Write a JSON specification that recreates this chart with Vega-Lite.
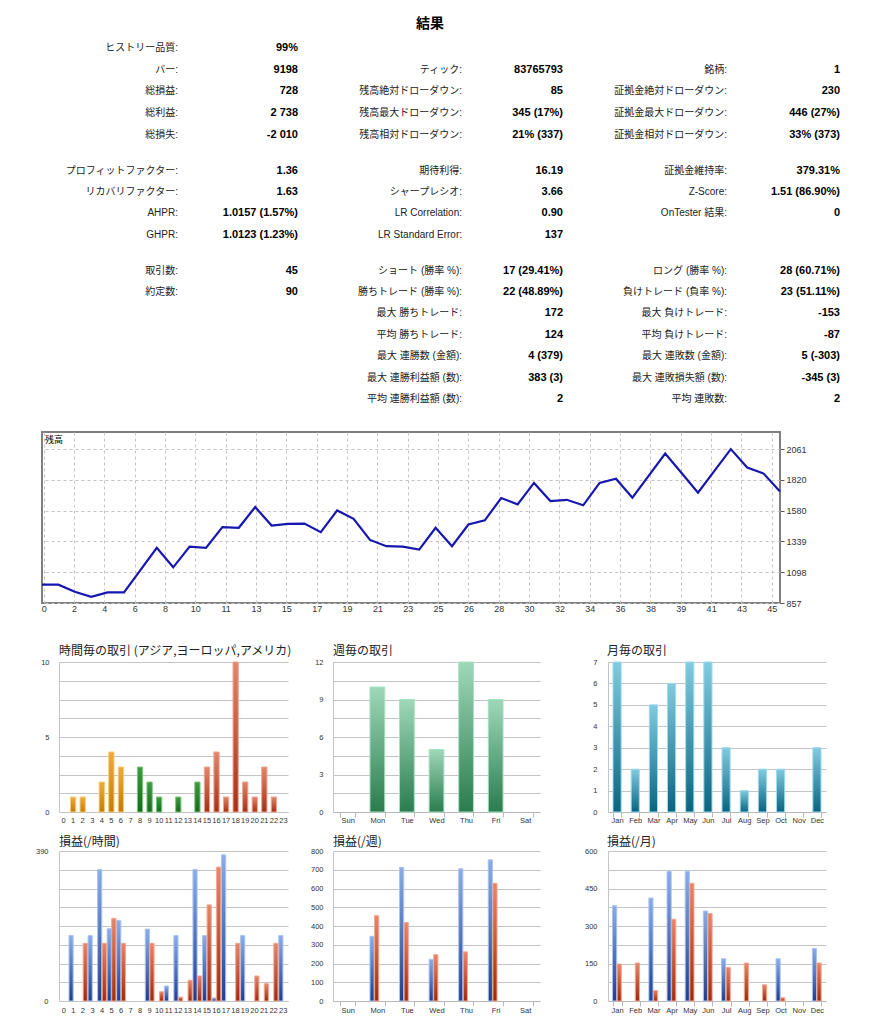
{
 "$schema": "https://vega.github.io/schema/vega-lite/v6.json",
 "background": "white",
 "padding": {"left": 35, "top": 17, "right": 10, "bottom": 5},
 "spacing": 10,
 "config": {
  "view": {"stroke": null},
  "font": "Liberation Sans",
  "axis": {"labelFont": "Liberation Sans", "labelColor": "#333", "labelFlush": false, "labelOverlap": false, "title": null},
  "title": {"font": "Noto Sans CJK JP", "fontWeight": "normal", "color": "#222"}
 },
 "datasets": {
  "stats": [
   {"g": 1, "r": 1, "label": "ヒストリー品質:", "value": "99%"},
   {"g": 1, "r": 2, "label": "バー:", "value": "9198"},
   {"g": 1, "r": 3, "label": "総損益:", "value": "728"},
   {"g": 1, "r": 4, "label": "総利益:", "value": "2 738"},
   {"g": 1, "r": 5, "label": "総損失:", "value": "-2 010"},
   {"g": 1, "r": 6, "label": "プロフィットファクター:", "value": "1.36"},
   {"g": 1, "r": 7, "label": "リカバリファクター:", "value": "1.63"},
   {"g": 1, "r": 8, "label": "AHPR:", "value": "1.0157 (1.57%)"},
   {"g": 1, "r": 9, "label": "GHPR:", "value": "1.0123 (1.23%)"},
   {"g": 1, "r": 10, "label": "取引数:", "value": "45"},
   {"g": 1, "r": 11, "label": "約定数:", "value": "90"},
   {"g": 2, "r": 2, "label": "ティック:", "value": "83765793"},
   {"g": 2, "r": 3, "label": "残高絶対ドローダウン:", "value": "85"},
   {"g": 2, "r": 4, "label": "残高最大ドローダウン:", "value": "345 (17%)"},
   {"g": 2, "r": 5, "label": "残高相対ドローダウン:", "value": "21% (337)"},
   {"g": 2, "r": 6, "label": "期待利得:", "value": "16.19"},
   {"g": 2, "r": 7, "label": "シャープレシオ:", "value": "3.66"},
   {"g": 2, "r": 8, "label": "LR Correlation:", "value": "0.90"},
   {"g": 2, "r": 9, "label": "LR Standard Error:", "value": "137"},
   {"g": 2, "r": 10, "label": "ショート (勝率 %):", "value": "17 (29.41%)"},
   {"g": 2, "r": 11, "label": "勝ちトレード (勝率 %):", "value": "22 (48.89%)"},
   {"g": 2, "r": 12, "label": "最大 勝ちトレード:", "value": "172"},
   {"g": 2, "r": 13, "label": "平均 勝ちトレード:", "value": "124"},
   {"g": 2, "r": 14, "label": "最大 連勝数 (金額):", "value": "4 (379)"},
   {"g": 2, "r": 15, "label": "最大 連勝利益額 (数):", "value": "383 (3)"},
   {"g": 2, "r": 16, "label": "平均 連勝利益額 (数):", "value": "2"},
   {"g": 3, "r": 2, "label": "銘柄:", "value": "1"},
   {"g": 3, "r": 3, "label": "証拠金絶対ドローダウン:", "value": "230"},
   {"g": 3, "r": 4, "label": "証拠金最大ドローダウン:", "value": "446 (27%)"},
   {"g": 3, "r": 5, "label": "証拠金相対ドローダウン:", "value": "33% (373)"},
   {"g": 3, "r": 6, "label": "証拠金維持率:", "value": "379.31%"},
   {"g": 3, "r": 7, "label": "Z-Score:", "value": "1.51 (86.90%)"},
   {"g": 3, "r": 8, "label": "OnTester 結果:", "value": "0"},
   {"g": 3, "r": 10, "label": "ロング (勝率 %):", "value": "28 (60.71%)"},
   {"g": 3, "r": 11, "label": "負けトレード (負率 %):", "value": "23 (51.11%)"},
   {"g": 3, "r": 12, "label": "最大 負けトレード:", "value": "-153"},
   {"g": 3, "r": 13, "label": "平均 負けトレード:", "value": "-87"},
   {"g": 3, "r": 14, "label": "最大 連敗数 (金額):", "value": "5 (-303)"},
   {"g": 3, "r": 15, "label": "最大 連敗損失額 (数):", "value": "-345 (3)"},
   {"g": 3, "r": 16, "label": "平均 連敗数:", "value": "2"}
  ],
  "balance": [
   {"trade": 0, "balance": 1000}, {"trade": 1, "balance": 1000}, {"trade": 2, "balance": 945}, {"trade": 3, "balance": 906},
   {"trade": 4, "balance": 940}, {"trade": 5, "balance": 940}, {"trade": 6, "balance": 1114}, {"trade": 7, "balance": 1288},
   {"trade": 8, "balance": 1136}, {"trade": 9, "balance": 1298}, {"trade": 10, "balance": 1288}, {"trade": 11, "balance": 1450},
   {"trade": 12, "balance": 1445}, {"trade": 13, "balance": 1607}, {"trade": 14, "balance": 1463}, {"trade": 15, "balance": 1476},
   {"trade": 16, "balance": 1478}, {"trade": 17, "balance": 1411}, {"trade": 18, "balance": 1581}, {"trade": 19, "balance": 1515},
   {"trade": 20, "balance": 1350}, {"trade": 21, "balance": 1301}, {"trade": 22, "balance": 1298}, {"trade": 23, "balance": 1275},
   {"trade": 24, "balance": 1445}, {"trade": 25, "balance": 1301}, {"trade": 26, "balance": 1471}, {"trade": 27, "balance": 1503},
   {"trade": 28, "balance": 1678}, {"trade": 29, "balance": 1628}, {"trade": 30, "balance": 1796}, {"trade": 31, "balance": 1654},
   {"trade": 32, "balance": 1664}, {"trade": 33, "balance": 1621}, {"trade": 34, "balance": 1796}, {"trade": 35, "balance": 1829},
   {"trade": 36, "balance": 1680}, {"trade": 37, "balance": 1853}, {"trade": 38, "balance": 2026}, {"trade": 39, "balance": 1873},
   {"trade": 40, "balance": 1720}, {"trade": 41, "balance": 1890}, {"trade": 42, "balance": 2060}, {"trade": 43, "balance": 1916},
   {"trade": 44, "balance": 1869}, {"trade": 45, "balance": 1728}
  ],
  "hourTrades": [
   {"hour": 1, "count": 1, "region": "asia"}, {"hour": 2, "count": 1, "region": "asia"}, {"hour": 4, "count": 2, "region": "asia"},
   {"hour": 5, "count": 4, "region": "asia"}, {"hour": 6, "count": 3, "region": "asia"},
   {"hour": 8, "count": 3, "region": "europe"}, {"hour": 9, "count": 2, "region": "europe"}, {"hour": 10, "count": 1, "region": "europe"},
   {"hour": 12, "count": 1, "region": "europe"}, {"hour": 14, "count": 2, "region": "europe"},
   {"hour": 15, "count": 3, "region": "america"}, {"hour": 16, "count": 4, "region": "america"}, {"hour": 17, "count": 1, "region": "america"},
   {"hour": 18, "count": 10, "region": "america"}, {"hour": 19, "count": 2, "region": "america"}, {"hour": 20, "count": 1, "region": "america"},
   {"hour": 21, "count": 3, "region": "america"}, {"hour": 22, "count": 1, "region": "america"}
  ],
  "dayTrades": [
   {"day": "Mon", "count": 10}, {"day": "Tue", "count": 9}, {"day": "Wed", "count": 5}, {"day": "Thu", "count": 12}, {"day": "Fri", "count": 9}
  ],
  "monthTrades": [
   {"month": "Jan", "count": 7}, {"month": "Feb", "count": 2}, {"month": "Mar", "count": 5}, {"month": "Apr", "count": 6},
   {"month": "May", "count": 7}, {"month": "Jun", "count": 7}, {"month": "Jul", "count": 3}, {"month": "Aug", "count": 1},
   {"month": "Sep", "count": 2}, {"month": "Oct", "count": 2}, {"month": "Dec", "count": 3}
  ],
  "hourPL": [
   {"hour": 1, "type": "profit", "value": 170}, {"hour": 3, "type": "profit", "value": 170}, {"hour": 4, "type": "profit", "value": 342},
   {"hour": 5, "type": "profit", "value": 188}, {"hour": 6, "type": "profit", "value": 209}, {"hour": 9, "type": "profit", "value": 187},
   {"hour": 11, "type": "profit", "value": 39}, {"hour": 12, "type": "profit", "value": 170}, {"hour": 14, "type": "profit", "value": 342},
   {"hour": 15, "type": "profit", "value": 170}, {"hour": 16, "type": "profit", "value": 8}, {"hour": 17, "type": "profit", "value": 380},
   {"hour": 19, "type": "profit", "value": 170}, {"hour": 23, "type": "profit", "value": 170},
   {"hour": 2, "type": "loss", "value": 150}, {"hour": 4, "type": "loss", "value": 150}, {"hour": 5, "type": "loss", "value": 215},
   {"hour": 6, "type": "loss", "value": 150}, {"hour": 9, "type": "loss", "value": 150}, {"hour": 10, "type": "loss", "value": 24},
   {"hour": 12, "type": "loss", "value": 10}, {"hour": 13, "type": "loss", "value": 54}, {"hour": 14, "type": "loss", "value": 65},
   {"hour": 15, "type": "loss", "value": 250}, {"hour": 16, "type": "loss", "value": 348}, {"hour": 18, "type": "loss", "value": 150},
   {"hour": 20, "type": "loss", "value": 65}, {"hour": 21, "type": "loss", "value": 45}, {"hour": 22, "type": "loss", "value": 150}
  ],
  "dayPL": [
   {"day": "Mon", "type": "profit", "value": 345}, {"day": "Tue", "type": "profit", "value": 713}, {"day": "Wed", "type": "profit", "value": 222},
   {"day": "Thu", "type": "profit", "value": 705}, {"day": "Fri", "type": "profit", "value": 753},
   {"day": "Mon", "type": "loss", "value": 455}, {"day": "Tue", "type": "loss", "value": 418}, {"day": "Wed", "type": "loss", "value": 247},
   {"day": "Thu", "type": "loss", "value": 262}, {"day": "Fri", "type": "loss", "value": 628}
  ],
  "monthPL": [
   {"month": "Jan", "type": "profit", "value": 381}, {"month": "Mar", "type": "profit", "value": 412}, {"month": "Apr", "type": "profit", "value": 518},
   {"month": "May", "type": "profit", "value": 518}, {"month": "Jun", "type": "profit", "value": 360}, {"month": "Jul", "type": "profit", "value": 169},
   {"month": "Oct", "type": "profit", "value": 169}, {"month": "Dec", "type": "profit", "value": 210},
   {"month": "Jan", "type": "loss", "value": 148}, {"month": "Feb", "type": "loss", "value": 152}, {"month": "Mar", "type": "loss", "value": 42},
   {"month": "Apr", "type": "loss", "value": 327}, {"month": "May", "type": "loss", "value": 471}, {"month": "Jun", "type": "loss", "value": 350},
   {"month": "Jul", "type": "loss", "value": 134}, {"month": "Aug", "type": "loss", "value": 152}, {"month": "Sep", "type": "loss", "value": 65},
   {"month": "Oct", "type": "loss", "value": 13}, {"month": "Dec", "type": "loss", "value": 152}
  ]
 },
 "vconcat": [
  {
   "width": 776, "height": 386,
   "title": {"text": "結果", "fontSize": 14, "fontWeight": "bold", "anchor": "middle", "frame": "group", "color": "#000", "offset": 4},
   "data": {"name": "stats"},
   "layer": [
    {
     "mark": {"type": "text", "align": "right", "baseline": "middle", "fontSize": 10, "font": "'Liberation Sans', 'Noto Sans CJK JP', sans-serif", "color": "#222"},
     "encoding": {
      "x": {"field": "g", "type": "quantitative", "scale": {"domain": [1, 2, 3], "range": [136, 420, 685], "nice": false, "zero": false}, "axis": null},
      "y": {"field": "r", "type": "quantitative", "scale": {"domain": [1, 5, 6, 9, 10, 16], "range": [13, 99.5, 136, 199.5, 235.5, 364], "nice": false, "zero": false}, "axis": null},
      "text": {"field": "label"}
     }
    },
    {
     "mark": {"type": "text", "align": "right", "baseline": "middle", "fontSize": 11, "fontWeight": "bold", "font": "'Liberation Sans', sans-serif", "color": "#000"},
     "encoding": {
      "x": {"field": "g", "type": "quantitative", "scale": {"domain": [1, 2, 3], "range": [256, 521, 798], "nice": false, "zero": false}, "axis": null},
      "y": {"field": "r", "type": "quantitative", "scale": {"domain": [1, 5, 6, 9, 10, 16], "range": [13, 99.5, 136, 199.5, 235.5, 364], "nice": false, "zero": false}, "axis": null},
      "text": {"field": "value"}
     }
    }
   ],
   "resolve": {"scale": {"x": "independent"}}
  },
  {
   "width": 738, "height": 171,
   "view": {"stroke": "#7f7f7f", "strokeWidth": 2},
   "title": {"text": "残高", "anchor": "start", "frame": "group", "fontSize": 9, "offset": -13, "dx": 3, "color": "#000"},
   "data": {"name": "balance"},
   "mark": {"type": "line", "color": "#1616b0", "strokeWidth": 2.2},
   "encoding": {
    "x": {"field": "trade", "type": "quantitative", "scale": {"domain": [0, 45], "nice": false, "zero": false},
     "axis": {"values": [0.1, 1.95, 3.8, 5.65, 7.5, 9.35, 11.2, 13.05, 14.9, 16.75, 18.6, 20.45, 22.3, 24.15, 26, 27.85, 29.7, 31.55, 33.4, 35.25, 37.1, 38.95, 40.8, 42.65, 44.5],
      "labelExpr": "['0','2','4','6','8','10','11','13','15','17','19','21','23','25','26','28','30','32','34','36','38','39','41','43','45'][round((datum.value - 0.1) / 1.85)]",
      "grid": true, "gridDash": [3, 3], "gridColor": "#c4c4c4", "domain": false, "ticks": false, "labelPadding": 1, "labelFontSize": 9}},
    "y": {"field": "balance", "type": "quantitative", "scale": {"domain": [857, 2194], "nice": false, "zero": false},
     "axis": {"orient": "right", "format": "d", "values": [857, 1098, 1339, 1580, 1820, 2061], "grid": true, "gridDash": [3, 3], "gridColor": "#c4c4c4", "domain": false, "tickSize": 4, "tickColor": "#555", "labelPadding": 2, "labelFontSize": 9}}
   }
  },
  {
   "hconcat": [
    {
     "width": 246, "height": 188,
     "title": {"text": "時間毎の取引 (アジア,ヨーロッパ,アメリカ)", "anchor": "start", "frame": "group", "dx": 17, "offset": -34, "fontSize": 12},
     "data": {"name": "hourTrades"},
     "encoding": {
      "x": {"field": "hour", "type": "ordinal", "scale": {"domain": [0,1,2,3,4,5,6,7,8,9,10,11,12,13,14,15,16,17,18,19,20,21,22,23], "range": [17, 246], "paddingInner": 0.45, "paddingOuter": 0.2},
       "axis": {"labelAngle": 0, "ticks": false, "domainColor": "#c4c4c4", "labelFontSize": 7.5, "labelPadding": 4}},
      "y": {"field": "count", "type": "quantitative", "scale": {"domain": [0, 10], "range": [188, 38], "nice": false},
       "axis": {"values": [0, 1.25, 2.5, 3.75, 5, 6.25, 7.5, 8.75, 10], "labelExpr": "datum.value % 5 === 0 ? datum.label : ''", "offset": -17, "ticks": false, "domainColor": "#c4c4c4", "gridColor": "#c4c4c4", "labelPadding": 10, "labelFontSize": 7.5}}
     },
     "layer": [
      {"transform": [{"filter": "datum.region === 'asia'"}],
       "mark": {"type": "bar", "fill": {"gradient": "linear", "x1": 0, "y1": 1, "x2": 0, "y2": 0, "stops": [{"offset": 0, "color": "#c77a02"}, {"offset": 1, "color": "#eeac3c"}]}, "stroke": "#f6c878", "strokeWidth": 1}},
      {"transform": [{"filter": "datum.region === 'europe'"}],
       "mark": {"type": "bar", "fill": {"gradient": "linear", "x1": 0, "y1": 1, "x2": 0, "y2": 0, "stops": [{"offset": 0, "color": "#146a1c"}, {"offset": 1, "color": "#3f9a40"}]}, "stroke": "#7cc77c", "strokeWidth": 1}},
      {"transform": [{"filter": "datum.region === 'america'"}],
       "mark": {"type": "bar", "fill": {"gradient": "linear", "x1": 0, "y1": 1, "x2": 0, "y2": 0, "stops": [{"offset": 0, "color": "#a53016"}, {"offset": 1, "color": "#e2866c"}]}, "stroke": "#f0a48e", "strokeWidth": 1}}
     ]
    },
    {
     "width": 242, "height": 188,
     "title": {"text": "週毎の取引", "anchor": "start", "frame": "group", "dx": 35, "offset": -34, "fontSize": 12},
     "data": {"name": "dayTrades"},
     "mark": {"type": "bar", "fill": {"gradient": "linear", "x1": 0, "y1": 1, "x2": 0, "y2": 0, "stops": [{"offset": 0, "color": "#2a7c4e"}, {"offset": 1, "color": "#9fd8b9"}]}, "stroke": "#a6e2c2", "strokeWidth": 1},
     "encoding": {
      "x": {"field": "day", "type": "nominal", "scale": {"domain": ["Sun", "Mon", "Tue", "Wed", "Thu", "Fri", "Sat"], "range": [35, 242], "paddingInner": 0.5, "paddingOuter": 0.25},
       "axis": {"labelAngle": 0, "tickBand": "extent", "tickColor": "#b8b8b8", "tickSize": 5, "domainColor": "#b8b8b8", "labelFontSize": 7.5, "labelPadding": -1}},
      "y": {"field": "count", "type": "quantitative", "scale": {"domain": [0, 12], "range": [188, 38], "nice": false},
       "axis": {"values": [0, 1.5, 3, 4.5, 6, 7.5, 9, 10.5, 12], "labelExpr": "datum.value % 3 === 0 ? datum.label : ''", "offset": -35, "ticks": false, "domainColor": "#c4c4c4", "gridColor": "#c4c4c4", "labelPadding": 10, "labelFontSize": 7.5}}
     }
    },
    {
     "width": 276, "height": 188,
     "title": {"text": "月毎の取引", "anchor": "start", "frame": "group", "dx": 57, "offset": -34, "fontSize": 12},
     "data": {"name": "monthTrades"},
     "mark": {"type": "bar", "fill": {"gradient": "linear", "x1": 0, "y1": 1, "x2": 0, "y2": 0, "stops": [{"offset": 0, "color": "#0a647f"}, {"offset": 1, "color": "#82cbe0"}]}, "stroke": "#9ddcee", "strokeWidth": 1},
     "encoding": {
      "x": {"field": "month", "type": "nominal", "scale": {"domain": ["Jan", "Feb", "Mar", "Apr", "May", "Jun", "Jul", "Aug", "Sep", "Oct", "Nov", "Dec"], "range": [58, 276], "paddingInner": 0.55, "paddingOuter": 0.275},
       "axis": {"labelAngle": 0, "tickBand": "extent", "tickColor": "#b8b8b8", "tickSize": 5, "domainColor": "#b8b8b8", "labelFontSize": 7.5, "labelPadding": -1}},
      "y": {"field": "count", "type": "quantitative", "scale": {"domain": [0, 7], "range": [188, 38], "nice": false},
       "axis": {"values": [0, 1, 2, 3, 4, 5, 6, 7], "offset": -58, "ticks": false, "domainColor": "#c4c4c4", "gridColor": "#c4c4c4", "labelPadding": 11, "labelFontSize": 7.5}}
     }
    }
   ],
   "spacing": 10,
   "bounds": "flush"
  },
  {
   "hconcat": [
    {
     "width": 246, "height": 167,
     "title": {"text": "損益(/時間)", "anchor": "start", "frame": "group", "dx": 17, "offset": -14.6, "fontSize": 12},
     "data": {"name": "hourPL"},
     "encoding": {
      "x": {"field": "hour", "type": "ordinal", "scale": {"domain": [0,1,2,3,4,5,6,7,8,9,10,11,12,13,14,15,16,17,18,19,20,21,22,23], "range": [17, 246], "paddingInner": 0.08, "paddingOuter": 0.05},
       "axis": {"labelAngle": 0, "ticks": false, "domainColor": "#c4c4c4", "labelFontSize": 7.5, "labelPadding": 5}},
      "y": {"field": "value", "type": "quantitative", "scale": {"domain": [0, 390], "range": [167, 17], "nice": false},
       "axis": {"values": [0, 48.75, 97.5, 146.25, 195, 243.75, 292.5, 341.25, 390], "labelExpr": "datum.value === 0 || datum.value === 390 ? datum.label : ''", "offset": -17, "ticks": false, "domainColor": "#c4c4c4", "gridColor": "#c4c4c4", "labelPadding": 11, "labelFontSize": 7.5}},
      "xOffset": {"field": "type", "type": "nominal", "scale": {"domain": ["profit", "loss"], "paddingInner": 0.1}}
     },
     "layer": [
      {"transform": [{"filter": "datum.type === 'profit'"}],
       "mark": {"type": "bar", "fill": {"gradient": "linear", "x1": 0, "y1": 1, "x2": 0, "y2": 0, "stops": [{"offset": 0, "color": "#1f3e8e"}, {"offset": 1, "color": "#8aade8"}]}, "stroke": "#a9c3f0", "strokeWidth": 1}},
      {"transform": [{"filter": "datum.type === 'loss'"}],
       "mark": {"type": "bar", "fill": {"gradient": "linear", "x1": 0, "y1": 1, "x2": 0, "y2": 0, "stops": [{"offset": 0, "color": "#9e2a0c"}, {"offset": 1, "color": "#e8866a"}]}, "stroke": "#f3a58e", "strokeWidth": 1}}
     ]
    },
    {
     "width": 242, "height": 167,
     "title": {"text": "損益(/週)", "anchor": "start", "frame": "group", "dx": 35, "offset": -14.6, "fontSize": 12},
     "data": {"name": "dayPL"},
     "encoding": {
      "x": {"field": "day", "type": "nominal", "scale": {"domain": ["Sun", "Mon", "Tue", "Wed", "Thu", "Fri", "Sat"], "range": [35, 242], "paddingInner": 0.5, "paddingOuter": 0.25},
       "axis": {"labelAngle": 0, "tickBand": "extent", "tickColor": "#b8b8b8", "tickSize": 5, "domainColor": "#b8b8b8", "labelFontSize": 7.5, "labelPadding": 0}},
      "y": {"field": "value", "type": "quantitative", "scale": {"domain": [0, 800], "range": [167, 17], "nice": false},
       "axis": {"values": [0, 100, 200, 300, 400, 500, 600, 700, 800], "offset": -35, "ticks": false, "domainColor": "#c4c4c4", "gridColor": "#c4c4c4", "labelPadding": 10, "labelFontSize": 7.5}},
      "xOffset": {"field": "type", "type": "nominal", "scale": {"domain": ["profit", "loss"], "paddingInner": 0.08}}
     },
     "layer": [
      {"transform": [{"filter": "datum.type === 'profit'"}],
       "mark": {"type": "bar", "fill": {"gradient": "linear", "x1": 0, "y1": 1, "x2": 0, "y2": 0, "stops": [{"offset": 0, "color": "#1f3e8e"}, {"offset": 1, "color": "#8aade8"}]}, "stroke": "#a9c3f0", "strokeWidth": 1}},
      {"transform": [{"filter": "datum.type === 'loss'"}],
       "mark": {"type": "bar", "fill": {"gradient": "linear", "x1": 0, "y1": 1, "x2": 0, "y2": 0, "stops": [{"offset": 0, "color": "#9e2a0c"}, {"offset": 1, "color": "#e8866a"}]}, "stroke": "#f3a58e", "strokeWidth": 1}}
     ]
    },
    {
     "width": 276, "height": 167,
     "title": {"text": "損益(/月)", "anchor": "start", "frame": "group", "dx": 57, "offset": -14.6, "fontSize": 12},
     "data": {"name": "monthPL"},
     "encoding": {
      "x": {"field": "month", "type": "nominal", "scale": {"domain": ["Jan", "Feb", "Mar", "Apr", "May", "Jun", "Jul", "Aug", "Sep", "Oct", "Nov", "Dec"], "range": [58, 276], "paddingInner": 0.5, "paddingOuter": 0.25},
       "axis": {"labelAngle": 0, "tickBand": "extent", "tickColor": "#b8b8b8", "tickSize": 5, "domainColor": "#b8b8b8", "labelFontSize": 7.5, "labelPadding": 0}},
      "y": {"field": "value", "type": "quantitative", "scale": {"domain": [0, 600], "range": [167, 17], "nice": false},
       "axis": {"values": [0, 75, 150, 225, 300, 375, 450, 525, 600], "labelExpr": "datum.value % 150 === 0 ? datum.label : ''", "offset": -58, "ticks": false, "domainColor": "#c4c4c4", "gridColor": "#c4c4c4", "labelPadding": 11, "labelFontSize": 7.5}},
      "xOffset": {"field": "type", "type": "nominal", "scale": {"domain": ["profit", "loss"], "paddingInner": 0.08}}
     },
     "layer": [
      {"transform": [{"filter": "datum.type === 'profit'"}],
       "mark": {"type": "bar", "fill": {"gradient": "linear", "x1": 0, "y1": 1, "x2": 0, "y2": 0, "stops": [{"offset": 0, "color": "#1f3e8e"}, {"offset": 1, "color": "#8aade8"}]}, "stroke": "#a9c3f0", "strokeWidth": 1}},
      {"transform": [{"filter": "datum.type === 'loss'"}],
       "mark": {"type": "bar", "fill": {"gradient": "linear", "x1": 0, "y1": 1, "x2": 0, "y2": 0, "stops": [{"offset": 0, "color": "#9e2a0c"}, {"offset": 1, "color": "#e8866a"}]}, "stroke": "#f3a58e", "strokeWidth": 1}}
     ]
    }
   ],
   "spacing": 10,
   "bounds": "flush"
  }
 ]
}
